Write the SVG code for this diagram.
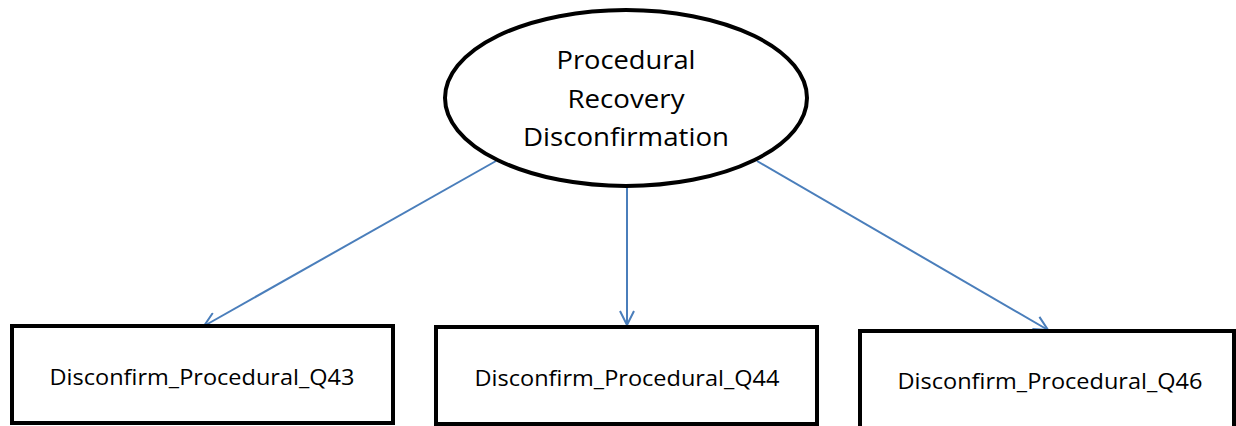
<svg xmlns="http://www.w3.org/2000/svg" width="1236" height="426" viewBox="0 0 1236 426">
<style>
.node{fill:#fff;stroke:#000;stroke-width:4}
.lbl{font-family:"Open Sans","Liberation Sans",sans-serif;fill:#000;text-anchor:middle}
.big{font-size:26px}
.small{font-size:21px}
.conn{stroke:#4a7ebb;stroke-width:2;fill:none;marker-end:url(#arr)}
</style>
<defs>
<marker id="arr" viewBox="0 0 16 16" refX="15" refY="8" markerWidth="16" markerHeight="16" markerUnits="userSpaceOnUse" orient="auto">
<path d="M1,1 L15,8 L1,15" fill="none" stroke="#4a7ebb" stroke-width="2"/>
</marker>
</defs>
<rect width="1236" height="426" fill="#fff"/>
<g id="connectors">
<line class="conn" x1="496" y1="161" x2="204" y2="326"/>
<line class="conn" x1="627" y1="187" x2="627" y2="325"/>
<line class="conn" x1="757" y1="161" x2="1048" y2="330"/>
</g>
<g id="latent">
<ellipse class="node" cx="626" cy="98" rx="181" ry="88"/>
<text class="lbl big" x="626" y="69" textLength="139" lengthAdjust="spacingAndGlyphs">Procedural</text>
<text class="lbl big" x="626" y="108" textLength="117" lengthAdjust="spacingAndGlyphs">Recovery</text>
<text class="lbl big" x="626" y="146" textLength="206" lengthAdjust="spacingAndGlyphs">Disconfirmation</text>
</g>
<g id="q43">
<rect class="node" x="12" y="326" width="381" height="97"/>
<text class="lbl small" x="202" y="385" textLength="305" lengthAdjust="spacingAndGlyphs">Disconfirm_Procedural_Q43</text>
</g>
<g id="q44">
<rect class="node" x="436" y="327" width="381" height="97"/>
<text class="lbl small" x="627" y="386" textLength="305" lengthAdjust="spacingAndGlyphs">Disconfirm_Procedural_Q44</text>
</g>
<g id="q46">
<rect class="node" x="860" y="331" width="374" height="100"/>
<text class="lbl small" x="1050" y="389" textLength="305" lengthAdjust="spacingAndGlyphs">Disconfirm_Procedural_Q46</text>
</g>
</svg>
